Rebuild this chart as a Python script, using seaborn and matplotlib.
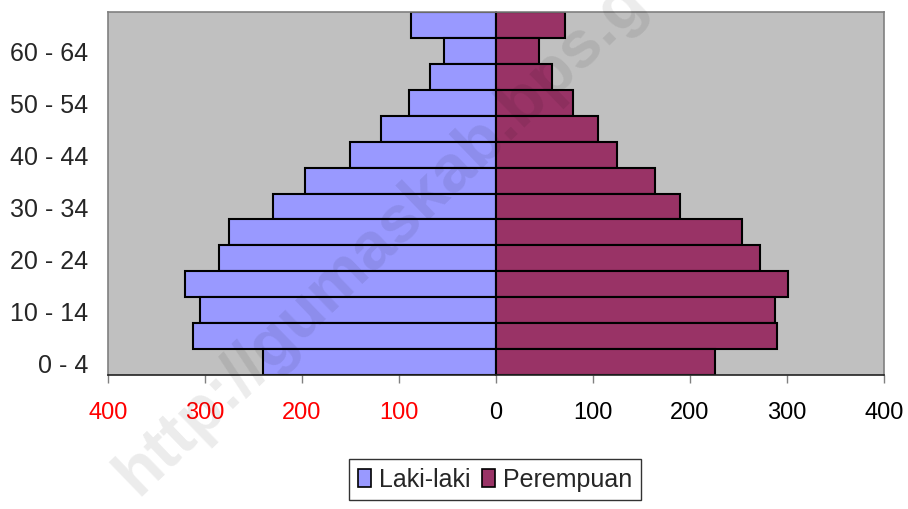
import matplotlib
matplotlib.use("Agg")
import matplotlib.pyplot as plt
import seaborn as sns
import pandas as pd

# Data (bottom-up: 0-4 ... 65+)
age_groups = ["0 - 4", "5 - 9", "10 - 14", "15 - 19", "20 - 24", "25 - 29", "30 - 34",
              "35 - 39", "40 - 44", "45 - 49", "50 - 54", "55 - 59", "60 - 64", "65+"]
laki_laki = [240, 312, 305, 321, 286, 275, 230, 197, 151, 119, 90, 68, 54, 88]
perempuan = [226, 290, 288, 301, 272, 254, 190, 164, 125, 105, 79, 58, 44, 71]
x_ticks = [-400, -300, -200, -100, 0, 100, 200, 300, 400]
series_names = ["Laki-laki", "Perempuan"]

sns.set_theme(style="white")
plt.rcParams["font.family"] = ["Liberation Sans", "DejaVu Sans"]

df = pd.DataFrame({
    "Umur": age_groups * 2,
    "Jumlah": [-v for v in laki_laki] + perempuan,
    "Jenis": [series_names[0]] * len(age_groups) + [series_names[1]] * len(age_groups),
})

order = age_groups[::-1]  # 65+ at top

fig = plt.figure(figsize=(9.08, 5.10), dpi=100)
ax = fig.add_axes([108 / 908, 1 - 376 / 510, (884 - 108) / 908, (376 - 13) / 510])

sns.barplot(data=df, x="Jumlah", y="Umur", hue="Jenis", order=order,
            hue_order=series_names, palette=["#9999FF", "#993366"], saturation=1,
            dodge=False, width=1.0, edgecolor="black", linewidth=1.5,
            orient="h", ax=ax, zorder=2)

ax.set_facecolor("#C0C0C0")
ax.set_xlim(-400, 400)
ax.set_ylim(len(order) - 0.5, -0.5)
ax.set_xlabel("")
ax.set_ylabel("")

# x axis
ax.set_xticks(x_ticks)
ax.set_xticklabels([str(abs(v)) for v in x_ticks])
for v, lab in zip(x_ticks, ax.get_xticklabels()):
    lab.set_color("red" if v < 0 else "black")
ax.tick_params(axis="x", direction="out", length=6, width=1, color="#808080",
               labelsize=17, pad=13, bottom=True)

# y axis labels (every other group)
ax.set_yticks(range(len(order)))
ax.set_yticklabels([lab if (age_groups.index(lab) % 2 == 0 and lab != "65+") else "" for lab in order])
ax.tick_params(axis="y", length=0, labelsize=18, pad=14)

for side in ["top", "right", "left"]:
    ax.spines[side].set_color("#808080")
    ax.spines[side].set_linewidth(1.2)
ax.spines["bottom"].set_color("#222222")
ax.spines["bottom"].set_linewidth(1.2)

# central axis with ticks
sec = ax.secondary_yaxis(0.5)
sec.set_yticks(range(len(order)))
sec.set_yticklabels([""] * len(order))
sec.tick_params(axis="y", direction="out", length=4, width=1, color="black")
sec.spines["left"].set_color("black")
sec.spines["left"].set_linewidth(1.5)

# legend
handles, labels = ax.get_legend_handles_labels()
if ax.legend_ is not None:
    ax.legend_.remove()
leg = fig.legend(handles, labels, loc="center", bbox_to_anchor=(495 / 908, 1 - 480.5 / 510),
                 ncol=2, frameon=True, fancybox=False, shadow=False, edgecolor="black",
                 fontsize=18, handlelength=0.55, handleheight=0.7, handletextpad=0.3,
                 columnspacing=0.45, borderpad=0.35, borderaxespad=0)
leg.get_frame().set_linewidth(1.0)
for h in leg.legend_handles:
    h.set_edgecolor("black")
    h.set_linewidth(1.2)

# watermark
fig.text(138 / 908, 1 - 497 / 510, "http://gumaskab.bps.go.id", fontsize=48,
         fontweight="bold", color="black", alpha=0.08, rotation=44,
         rotation_mode="anchor", ha="left", va="baseline", zorder=10)

fig.savefig("out.png", dpi=100)
